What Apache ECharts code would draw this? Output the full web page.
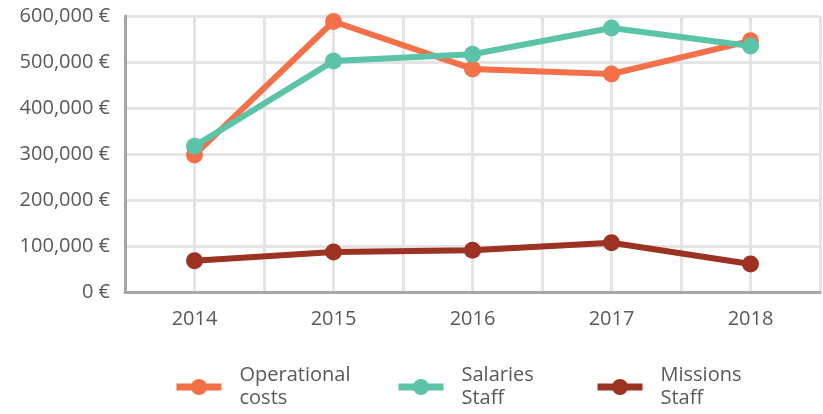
<!DOCTYPE html>
<html>
<head>
<meta charset="utf-8">
<script src="https://cdn.jsdelivr.net/npm/echarts@6/dist/echarts.min.js"></script>
<style>
html,body{margin:0;padding:0;background:#fff;}
#chart{width:823px;height:414px;}
</style>
</head>
<body>
<div id="chart"></div>
<script>
// data
var years = [2014, 2015, 2016, 2017, 2018];
var operationalCosts = [298000, 588000, 485000, 474000, 546000];
var salariesStaff = [317000, 502000, 517000, 574000, 535000];
var missionsStaff = [68000, 87000, 91000, 107000, 61000];
var seriesNames = ['Operational\ncosts', 'Salaries\nStaff', 'Missions\nStaff'];
var colors = ['#F37048', '#5BC3A8', '#9B3222'];

function pairs(vals){
    var out = [];
    for (var i = 0; i < years.length; i++) out.push([years[i], vals[i]]);
    return out;
}

var chart = echarts.init(document.getElementById('chart'));
var fontFam = '"Open Sans", sans-serif';
var txtColor = '#595959';

function legendAt(left, name){
    return {
        left: left,
        top: 364,
        padding: 0,
        data: [name],
        itemWidth: 45,
        itemHeight: 20,
        selectedMode: false,
        lineStyle: {width: 7},
        textStyle: {
            fontFamily: fontFam,
            fontSize: 20,
            lineHeight: 23,
            color: txtColor,
            padding: [0, 0, 0, 13]
        }
    };
}

var option = {
    animation: false,
    color: colors,
    grid: {left: 125, right: 0, top: 16, bottom: 122},
    legend: [
        legendAt(173, seriesNames[0]),
        legendAt(395, seriesNames[1]),
        legendAt(594, seriesNames[2])
    ],
    xAxis: {
        type: 'value',
        min: 2013.5,
        max: 2018.5,
        interval: 0.5,
        axisLine: {show: true, lineStyle: {color: '#A7A7AA', width: 3}},
        axisTick: {show: false},
        splitLine: {show: true, lineStyle: {color: '#E4E4E6', width: 3}},
        axisLabel: {
            margin: 17,
            fontFamily: fontFam,
            fontSize: 20,
            color: txtColor,
            formatter: function(v){ return v % 1 === 0 ? String(v) : ''; }
        }
    },
    yAxis: {
        type: 'value',
        min: 0,
        max: 600000,
        interval: 100000,
        axisLine: {show: true, lineStyle: {color: '#A7A7AA', width: 3}},
        axisTick: {show: false},
        splitLine: {show: true, lineStyle: {color: '#E4E4E6', width: 3}},
        axisLabel: {
            margin: 15,
            fontFamily: fontFam,
            fontSize: 20,
            color: txtColor,
            formatter: function(v){ return v.toLocaleString('en-US') + ' €'; }
        }
    },
    series: [
        {name: seriesNames[0], type: 'line', data: pairs(operationalCosts)},
        {name: seriesNames[1], type: 'line', data: pairs(salariesStaff)},
        {name: seriesNames[2], type: 'line', data: pairs(missionsStaff)}
    ].map(function(s, i){
        s.symbol = 'circle';
        s.symbolSize = 17;
        s.lineStyle = {width: 6, color: colors[i]};
        s.itemStyle = {color: colors[i]};
        return s;
    })
};
chart.setOption(option);
</script>
</body>
</html>
